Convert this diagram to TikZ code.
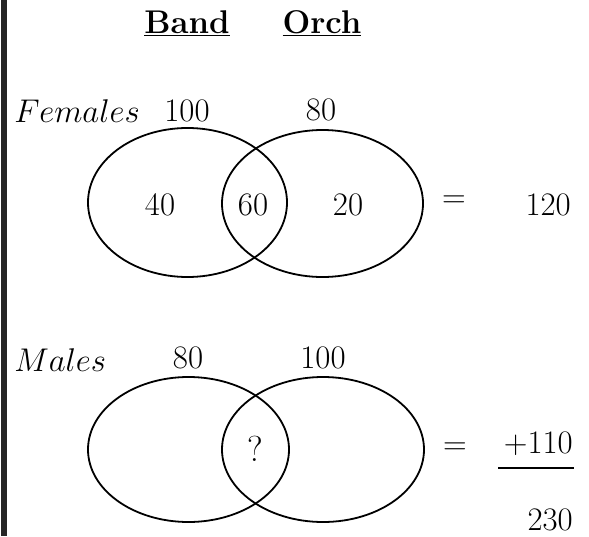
\documentclass[tikz,border=0pt]{standalone}
\usetikzlibrary{shapes.geometric}
\begin{document}
\begin{tikzpicture}[x=1pt,y=-1pt,
  txt/.style={inner sep=0pt,font=\Huge,scale=1.32},
  set/.style={draw,ellipse,line width=1.8pt,inner sep=0pt},
  rule/.style={line width=1.8pt}]
\useasboundingbox (0,0) rectangle (589,536);
\fill[white] (0,0) rectangle (589,536);
% left bar
\coordinate (bartop) at (4,0);
\coordinate (barbot) at (4,536);
\draw[line width=5.5pt,black!85] (bartop) -- (barbot);
% headings
\node[txt,anchor=base] (band) at (187,33) {\underline{\textbf{Band}}};
\node[txt,anchor=base] (orch) at (322,33) {\underline{\textbf{Orch}}};
% Females
\node[txt,anchor=base west] (fem) at (14,122) {$Females$};
\node[txt,anchor=base] (f100) at (187,121) {100};
\node[txt,anchor=base] (f80) at (321,120) {80};
\node[set,minimum width=199pt,minimum height=149pt] (fb) at (187.5,202.5) {};
\node[set,minimum width=201pt,minimum height=147pt] (fo) at (322.5,203.5) {};
\node[txt,anchor=base] (f40) at (160,215) {40};
\node[txt,anchor=base] (f60) at (253,215) {60};
\node[txt,anchor=base] (f20) at (348,215) {20};
\node[txt] (feq) at (454,202) {$=$};
\node[txt,anchor=base east] (f120) at (571,215) {120};
% Males
\node[txt,anchor=base west] (mal) at (14,371) {$Males$};
\node[txt,anchor=base] (m80) at (188,368) {80};
\node[txt,anchor=base] (m100) at (323,368) {100};
\node[set,minimum width=201pt,minimum height=145pt] (mb) at (188.5,449.5) {};
\node[set,minimum width=202pt,minimum height=145pt] (mo) at (323,449.5) {};
\node[txt,anchor=base,scale=1.1] (mq) at (255,461) {?};
\node[txt] (meq) at (455,449) {$=$};
\node[txt,anchor=base east] (m110) at (573,453) {$+$110};
\coordinate (ul1) at (498,468);
\coordinate (ul2) at (574,468);
\draw[rule] (ul1) -- (ul2);
\node[txt,anchor=base east] (m230) at (573,530) {230};
\end{tikzpicture}
\end{document}
